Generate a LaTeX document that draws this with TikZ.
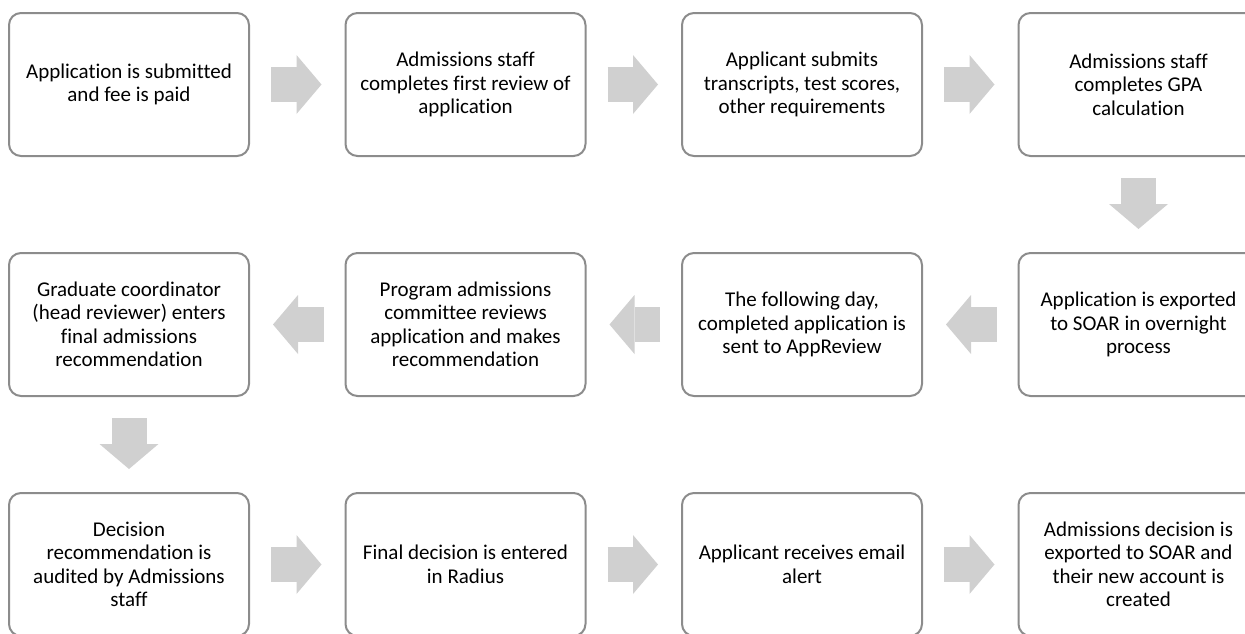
\documentclass[tikz,border=0pt]{standalone}
\usepackage{fontspec}
\setmainfont[Ligatures=NoCommon]{Carlito}
\usetikzlibrary{positioning, arrows.meta}

\definecolor{boxline}{HTML}{8C8C8C}
\definecolor{arrowgray}{HTML}{D0D0D0}

\tikzset{
    stagebox/.style={draw=boxline, line width=2pt, fill=white, rounded corners=12pt,
        minimum width=240pt, minimum height=143pt, align=center, text=black,
        font=\fontsize{21}{23.5}\selectfont},
    flowarrow/.style={draw=arrowgray, line width=35pt, shorten <=21pt, shorten >=23pt,
        -{Triangle[length=25pt, width=59pt, line width=0pt]}}
}

\begin{document}
\begin{tikzpicture}[x=1pt, y=-1pt, node distance=95pt and 94.5pt]
        \useasboundingbox (0,0) rectangle (1245,633);

        % First row
        \node[stagebox] (submit) at (129,84.5) {Application is submitted\\and fee is paid};
        \node[stagebox, right=of submit] (review) {Admissions staff\\completes first review of\\application};
        \node[stagebox, right=of review] (transcripts) {Applicant submits\\transcripts, test scores,\\other requirements};
        \node[stagebox, right=of transcripts] (gpa) {Admissions staff\\completes GPA\\calculation};

        % Second row (right to left)
        \node[stagebox, below=of gpa] (export) {Application is exported\\to SOAR in overnight\\process};
        \node[stagebox, left=of export] (appreview) {The following day,\\completed application is\\sent to AppReview};
        \node[stagebox, left=of appreview] (committee) {Program admissions\\committee reviews\\application and makes\\recommendation};
        \node[stagebox, left=of committee] (coordinator) {Graduate coordinator\\(head reviewer) enters\\final admissions\\recommendation};

        % Third row
        \node[stagebox, below=of coordinator] (audit) {Decision\\recommendation is\\audited by Admissions\\staff};
        \node[stagebox, right=of audit] (radius) {Final decision is entered\\in Radius};
        \node[stagebox, right=of radius] (alert) {Applicant receives email\\alert};
        \node[stagebox, right=of alert] (decision) {Admissions decision is\\exported to SOAR and\\their new account is\\created};

        % Draw block arrows
        \draw[flowarrow] (submit) -- (review);
        \draw[flowarrow] (review) -- (transcripts);
        \draw[flowarrow] (transcripts) -- (gpa);
        \draw[flowarrow] (gpa) -- (export);
        \draw[flowarrow] (export) -- (appreview);
        \draw[flowarrow] (appreview) -- (committee);
        \draw[flowarrow] (committee) -- (coordinator);
        \draw[flowarrow] (coordinator) -- (audit);
        \draw[flowarrow] (audit) -- (radius);
        \draw[flowarrow] (radius) -- (alert);
        \draw[flowarrow] (alert) -- (decision);
    \end{tikzpicture}
\end{document}
